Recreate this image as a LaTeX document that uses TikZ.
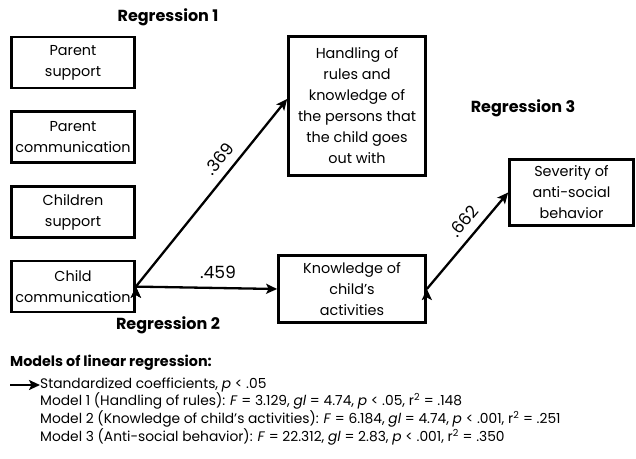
\documentclass[tikz,border=0pt]{standalone}
\usepackage{fontspec}
\setmainfont{Poppins}
\usetikzlibrary{positioning,arrows.meta,quotes}
\tikzset{%
  arrow/.style    = { -{Stealth[length=11pt, width=10pt, inset=2.5pt]}, line width = 2.3pt,
                      draw = #1, fill = #1 },
  vbox/.style     = { draw = black, line width = 2.7pt, align = center, inner sep = 1pt,
                      minimum width = #1, font = \fontsize{14.4}{21}\selectfont,
                      node distance = 21pt },
  heading/.style  = { font = \fontsize{16}{18}\bfseries\selectfont, inner sep = 0pt },
  coef/.style     = { sloped, above = 7pt, font = \fontsize{17}{19}\selectfont, inner sep = 1pt },
  legend/.style   = { anchor = west, inner sep = 0pt, font = \fontsize{13.8}{16}\selectfont }
}

\begin{document}
\begin{tikzpicture}[x=1pt, y=-1pt]
\useasboundingbox (0,0) rectangle (636,458);

\node(PS) [vbox=123pt, minimum height=51pt] at (73,62.5) {Parent\\support};
\node(PC) [vbox=123pt, minimum height=51pt, below = of PS] {Parent\\communication};
\node(CS) [vbox=123pt, minimum height=51pt, below = of PC] {Children\\support};
\node(CC) [vbox=123pt, minimum height=51pt, below = of CS] {Child\\communication};

\node(HR) [vbox=137pt, minimum height=139pt] at (357,106)
  {Handling of\\rules and\\knowledge of\\the persons that\\the child goes\\out with};
\node(KA) [vbox=147pt, minimum height=67pt] at (352,289) {Knowledge of\\child’s\\activities};
\node(SB) [vbox=124pt, minimum height=66pt] at (571.5,192.5) {Severity of\\anti-social\\behavior};

\node(R1) [heading] at (168,17)  {Regression 1};
\node(R2) [heading] at (168,325) {Regression 2};
\node(R3) [heading] at (523,108) {Regression 3};

\draw[arrow=black] (CC.east) edge[".369" {coef, pos=0.63}] ([yshift=7pt]HR.west);
\draw[arrow=black] (CC.east) edge[".459" {coef, pos=0.58}] (KA.west);
\draw[arrow=black] (KA.east) edge[".662" {coef, pos=0.6}]  (SB.west);

% legend
\node(LM) [heading, anchor=west, font=\fontsize{14.3}{16}\bfseries\selectfont] at (10,363)
  {Models of linear regression:};
\coordinate (LA) at (10,385);
\node(L0) [legend] at (40,385) {Standardized coefficients, \textit{p} < .05};
\node(L1) [legend] at (40,401)
  {Model 1 (Handling of rules): \textit{F} = 3.129, \textit{gl} = 4.74, \textit{p} < .05, r\textsuperscript{2} = .148};
\node(L2) [legend] at (40,419)
  {Model 2 (Knowledge of child’s activities): \textit{F} = 6.184, \textit{gl} = 4.74, \textit{p} < .001, r\textsuperscript{2} = .251};
\node(L3) [legend] at (40,437)
  {Model 3 (Anti-social behavior): \textit{F} = 22.312, \textit{gl} = 2.83, \textit{p} < .001, r\textsuperscript{2} = .350};
\draw[arrow=black] (LA) -- (L0.west);
\end{tikzpicture}
\end{document}
